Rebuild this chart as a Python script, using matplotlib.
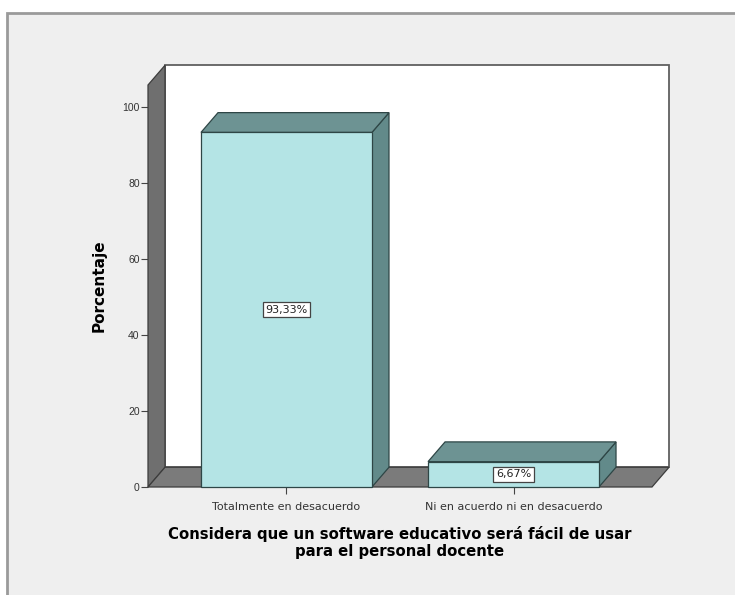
import numpy as np
import matplotlib.pyplot as plt
from matplotlib.patches import Polygon, Rectangle

plt.rcParams['font.family'] = ['Liberation Sans', 'DejaVu Sans']

categories = ['Totalmente en desacuerdo', 'Ni en acuerdo ni en desacuerdo']
porcentaje = [93.33, 6.67]
etiquetas = ['93,33%', '6,67%']
yticks = [0, 20, 40, 60, 80, 100]

# geometry of the fake 3d box (data units)
bar_w = 0.753
xmin, xmax = -0.61, 1.61
ymax = 105.8
dx, dy = 0.075, 5.2

front = '#b4e4e5'
top_c = '#6d9393'
side_c = '#628a8a'
edge = '#2e4646'

fig = plt.figure(figsize=(7.35, 5.95), dpi=100)
fig.patch.set_facecolor('white')
# outer frame like the SPSS viewer
fig.patches.append(Rectangle((7/735, -0.01), 1.0, 1 - 13/595 + 0.01, transform=fig.transFigure,
                             facecolor='#efefef', edgecolor='#9a9a9a', lw=2, zorder=-5))

ax = fig.add_axes([148/735, 108/595, 504/735, 402/595])
ax.set_zorder(2)
ax.set_xlim(xmin, xmax)
ax.set_ylim(0, ymax)
ax.patch.set_visible(False)
for s in ax.spines.values():
    s.set_visible(False)

def poly(pts, fc, z, ec='#3c3c3c', lw=0.9):
    p = Polygon(pts, closed=True, facecolor=fc, edgecolor=ec, lw=lw, zorder=z, clip_on=False)
    ax.add_patch(p)

# back wall
poly([(xmin+dx, dy), (xmax+dx, dy), (xmax+dx, ymax+dy), (xmin+dx, ymax+dy)], 'white', 1, ec='#606060', lw=1.3)
# left wall
poly([(xmin, 0), (xmin, ymax), (xmin+dx, ymax+dy), (xmin+dx, dy)], '#6f6f6f', 2)
# floor
poly([(xmin, 0), (xmax, 0), (xmax+dx, dy), (xmin+dx, dy)], '#7b7b7b', 2)

x = np.arange(len(categories))
for xi, h, lab in zip(x, porcentaje, etiquetas):
    l, r = xi - bar_w/2, xi + bar_w/2
    poly([(r, 0), (r, h), (r+dx, h+dy), (r+dx, dy)], side_c, 3, ec=edge)
    poly([(l, h), (r, h), (r+dx, h+dy), (l+dx, h+dy)], top_c, 3, ec=edge)
    poly([(l, 0), (r, 0), (r, h), (l, h)], front, 4, ec=edge)
    ax.text(xi, h/2, lab, ha='center', va='center', fontsize=8, color='#222222', zorder=6,
            family=['DejaVu Sans'],
            bbox=dict(boxstyle='square,pad=0.25', facecolor='white', edgecolor='#444444', lw=0.9))

ax.set_yticks(yticks)
ax.set_yticklabels([str(t) for t in yticks], fontsize=7.5, color='#333333')
ax.set_xticks(x)
ax.set_xticklabels(categories, fontsize=8, color='#333333', family=['DejaVu Sans'])
ax.tick_params(axis='y', length=5, width=0.8, color='#444444', pad=1)
ax.tick_params(axis='x', length=5, width=0.8, color='#444444', pad=6)

ax.set_ylabel('Porcentaje', fontsize=11, fontweight='bold', labelpad=11, family=['DejaVu Sans'])
ax.set_xlabel('Considera que un software educativo será fácil de usar\npara el personal docente',
              fontsize=10.7, fontweight='bold', labelpad=10, linespacing=1.12, family=['DejaVu Sans'])

fig.savefig('out.png', dpi=100)
